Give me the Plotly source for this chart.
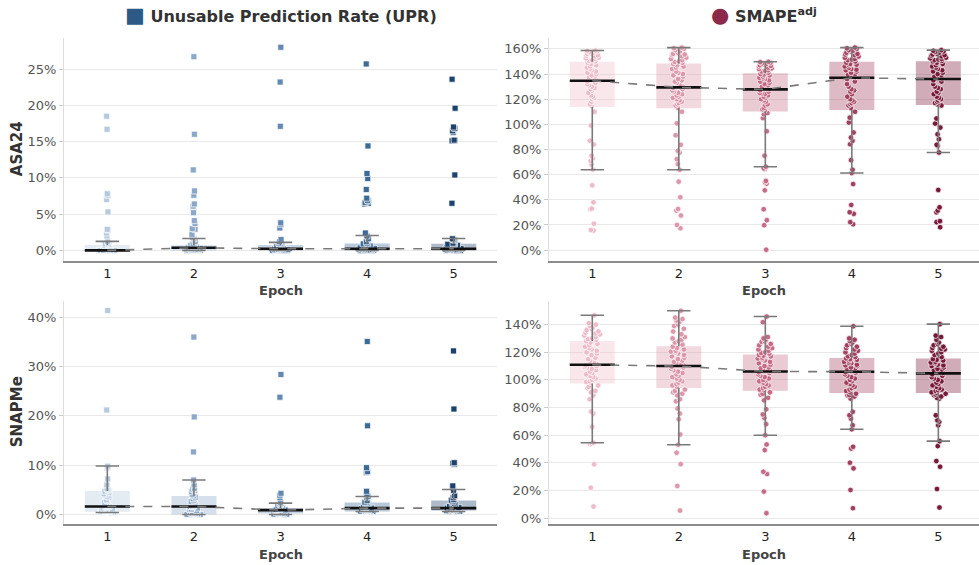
import numpy as np
import plotly.graph_objects as go

epochs = [1, 2, 3, 4, 5]

# ---------------- Unusable Prediction Rate (UPR), values in % ----------------
upr_asa24_pts = [
    [18.5, 16.7, 7.8, 7.6, 7.0, 5.3, 2.9, 2.8, 2.4, 2.0, 1.2, 1.0, 0.9, 0.8, 0.7, 0.6, 0.5, 0.4, 0.3, 0.2,
     0, 0, 0, 0, 0, 0, 0, 0, 0, 0, 0, 0, 0, 0, 0, 0, 0, 0, 0, 0, 0, 0, 0, 0],
    [26.7, 16.0, 11.1, 8.2, 7.6, 6.4, 6.1, 5.2, 4.1, 3.7, 3.0, 2.9, 2.2, 1.8, 1.6, 1.2, 0.9, 0.8, 0.7, 0.6,
     0.5, 0.45, 0.4, 0.38, 0.36, 0.35, 0.3, 0.25, 0.2, 0.15, 0.1, 0.05, 0, 0, 0, 0, 0, 0, 0, 0, 0, 0],
    [28.0, 23.2, 17.1, 3.8, 3.6, 3.1, 1.5, 1.2, 1.0, 0.9, 0.8, 0.7, 0.6, 0.5, 0.4, 0.3, 0.25, 0.22, 0.2, 0.2,
     0.15, 0.1, 0.05, 0, 0, 0, 0, 0, 0, 0, 0, 0, 0, 0, 0, 0, 0],
    [25.7, 14.4, 10.6, 9.9, 8.4, 7.2, 6.9, 6.8, 6.6, 6.5, 6.4, 2.4, 2.0, 1.6, 1.2, 1.0, 0.9, 0.8, 0.7, 0.6,
     0.5, 0.4, 0.35, 0.3, 0.25, 0.22, 0.2, 0.15, 0.1, 0.05, 0, 0, 0, 0, 0, 0, 0, 0, 0, 0],
    [23.6, 19.6, 17.0, 16.8, 16.5, 16.3, 15.2, 15.2, 15.1, 10.4, 6.5, 1.6, 1.5, 1.4, 1.0, 0.9, 0.85, 0.8, 0.8,
     0.7, 0.6, 0.5, 0.4, 0.3, 0.25, 0.22, 0.2, 0.2, 0.15, 0.1, 0.05, 0.05, 0, 0, 0, 0, 0, 0, 0, 0],
]
upr_asa24_q1 = [0, 0, 0, 0, 0]
upr_asa24_med = [0, 0.36, 0.22, 0.22, 0.22]
upr_asa24_q3 = [0.73, 0.70, 0.73, 0.96, 0.91]
upr_asa24_wlo = [0, 0, 0, 0, 0]
upr_asa24_whi = [1.24, 1.65, 1.1, 2.06, 1.65]

upr_snapme_pts = [
    [41.4, 21.2, 9.8, 9.5, 7.2, 6.0, 5.3, 5.1, 4.9, 4.7, 4.5, 4.2, 4.0, 3.7, 3.5, 3.0, 2.8, 2.4, 2.0, 1.8,
     1.6, 1.6, 1.5, 1.3, 1.2, 1.1, 1.0, 1.0, 0.9, 0.8, 0.8, 0.7, 0.7, 0.6, 0.6, 0.5, 0.5, 0.5, 0.4, 0.4, 0.3],
    [36.0, 19.8, 12.7, 7.0, 6.0, 5.3, 5.1, 4.9, 4.6, 4.1, 3.8, 3.5, 3.2, 2.9, 2.6, 2.5, 2.2, 2.0, 1.8, 1.7,
     1.6, 1.5, 1.3, 1.1, 1.0, 0.8, 0.6, 0.5, 0.4, 0.3, 0.2, 0.1, 0.1, 0.05, 0, 0, 0, 0],
    [28.4, 23.8, 4.3, 3.9, 3.4, 2.5, 2.3, 2.2, 2.0, 1.8, 1.6, 1.5, 1.3, 1.2, 1.1, 1.0, 0.95, 0.9, 0.85, 0.8,
     0.7, 0.6, 0.5, 0.4, 0.3, 0.25, 0.2, 0.2, 0.15, 0.1, 0.05, 0, 0],
    [35.1, 18.0, 9.5, 8.7, 8.5, 4.7, 4.1, 3.7, 3.5, 2.8, 2.5, 2.4, 2.2, 2.0, 1.8, 1.6, 1.5, 1.4, 1.3, 1.3,
     1.2, 1.2, 1.1, 1.0, 1.0, 0.9, 0.9, 0.8, 0.8, 0.7, 0.7, 0.6, 0.6, 0.6],
    [33.2, 21.4, 10.5, 10.4, 10.2, 5.8, 5.7, 4.9, 3.8, 3.4, 3.0, 2.9, 2.6, 2.3, 2.1, 1.9, 1.8, 1.6, 1.5, 1.4,
     1.3, 1.3, 1.2, 1.2, 1.1, 1.1, 1.0, 1.0, 0.9, 0.9, 0.8, 0.8, 0.7, 0.6, 0.6],
]
upr_snapme_q1 = [0.53, 0.0, 0.2, 0.6, 0.81]
upr_snapme_med = [1.62, 1.62, 0.87, 1.28, 1.28]
upr_snapme_q3 = [4.78, 3.77, 1.28, 2.43, 2.83]
upr_snapme_wlo = [0.4, 0.0, 0.0, 0.6, 0.6]
upr_snapme_whi = [9.84, 7.0, 2.29, 3.64, 5.06]

# ---------------- SMAPE adj, values in % ----------------
smape_asa24_pts = [
    [158.7, 158.5, 158, 157.5, 157, 156.5, 156, 155, 154.5, 154, 153, 152.5, 152, 151, 150.5, 150,
     149, 148, 147, 146, 145, 144, 143, 142, 141, 140, 139, 138, 137.5, 137, 136, 135.5,
     134, 133, 132, 131, 130, 129, 128, 127, 125, 123, 122, 121, 120, 118, 116, 114.5,
     110, 99, 87, 84, 75, 73, 71, 68, 64, 51.5, 38, 33, 32.5, 21, 16, 15.5],
    [161, 160.5, 160, 159, 158, 157, 156, 155.5, 155, 154, 153, 152, 151, 150, 149.5, 149,
     148, 147, 146, 145, 144, 142, 141, 140, 139, 138, 136, 135, 134, 133, 131, 130,
     129, 128, 127, 126, 125, 124, 123, 122, 121, 120, 119, 118, 117, 116, 115, 113,
     110, 100.8, 91.3, 83.7, 79, 77.6, 72.3, 68.4, 63.9, 54.4, 42, 32.7, 31.4, 27.5, 20, 17.4],
    [149.7, 149.5, 149, 148.5, 148, 147.5, 147, 146.5, 146, 145, 144.5, 144, 143, 142.5, 142, 141,
     140, 139.5, 139, 138, 137, 136.5, 136, 135, 134, 133, 132, 131, 130, 129.5, 129, 128,
     127, 126, 125, 124.5, 124, 123, 122, 121, 120, 119, 118, 116, 115, 113, 112, 111,
     109, 108, 105, 94.5, 75, 66.3, 65, 64.5, 55, 54, 52.8, 47.5, 32.5, 23.8, 19.8, 0.3],
    [161, 160.5, 160, 159, 158.5, 158, 157, 156, 155.5, 155, 154, 153, 152, 151.5, 151, 150,
     149, 148, 147.5, 147, 146, 145, 144, 143.5, 143, 142, 141, 140, 139.5, 139, 138, 137.5,
     136, 134, 132, 130, 128, 127, 126, 124, 122, 120, 119, 118, 117, 116, 115, 113,
     110, 105.3, 101.4, 93.5, 89.5, 86.9, 84.2, 71.5, 63.9, 61.3, 52.5, 35.9, 30.1, 28.8, 22.2, 20.6],
    [159, 158.5, 158, 157.5, 157, 156, 155.5, 155, 154.5, 154, 153, 152.5, 152, 151.5, 151, 150.5,
     150, 149, 148, 147, 146, 145, 144, 143, 142, 141, 140, 139, 138, 137.5, 137, 136.5,
     135, 134, 132, 130, 129, 128, 126, 125, 124, 122, 121, 120, 119, 118, 117, 116,
     115, 104.6, 100.6, 97.4, 92.1, 88.2, 83.7, 83, 77.6, 47.8, 34, 31.4, 30.1, 23, 22.2, 18.2],
]
smape_asa24_q1 = [113.8, 112.7, 110.1, 111.4, 115.4]
smape_asa24_med = [134.7, 129.4, 127.8, 137.0, 136.0]
smape_asa24_q3 = [149.7, 148.4, 140.7, 149.7, 150.2]
smape_asa24_wlo = [63.9, 63.9, 66.3, 61.3, 77.6]
smape_asa24_whi = [158.7, 161.0, 149.7, 161.0, 159.0]

smape_snapme_pts = [
    [146.7, 141, 140, 139, 138, 137, 136, 135, 134, 133.5, 133, 132, 131, 130, 129.5, 129,
     128, 127, 126, 125, 124, 123, 122, 121, 120, 119, 118, 116, 115, 113.5, 112.5, 111.5,
     110.5, 110, 109.5, 109, 108, 107, 106, 105, 104, 103, 102, 101, 100, 99, 98.5, 98,
     96, 95, 94, 92, 91, 88.8, 86, 77, 75.6, 66, 54.5, 54, 53.5, 39, 22, 8.4],
    [150, 145, 144, 143, 142, 140, 139, 137, 135, 133, 131, 130, 129, 128, 127, 125.5,
     124, 123, 122, 121, 120.5, 120, 119, 118, 117, 116, 115, 114, 113, 112, 111, 110.5,
     109.5, 109, 108, 107, 106, 105, 104, 103, 102, 101, 100, 99, 98, 97, 96, 95,
     93, 92, 91, 90, 88.8, 86, 84.5, 79.3, 75.6, 71.5, 60.5, 53.1, 47.3, 39.1, 23.3, 5.5],
    [145.8, 141.7, 131, 130, 129, 128, 127.5, 126, 125, 124, 123, 122, 121, 120, 119.5, 119,
     118, 117.5, 117, 116, 115.5, 115, 114, 113, 112, 111, 110, 109, 108.5, 108, 107, 106.5,
     105.5, 105, 104, 103, 102, 101, 100, 99.5, 99, 98, 97, 96, 95, 94, 93, 92.5,
     91, 90, 89.3, 87, 85.2, 78.8, 75, 72.5, 68, 60, 53.3, 49.2, 33.6, 31.9, 19.2, 3.6],
    [138.8, 130, 129, 128, 127, 126, 125, 124, 123, 122, 121, 120, 119, 118, 117, 116.5,
     115.5, 115, 114.5, 114, 113, 112.5, 112, 111, 110.5, 110, 109, 108.5, 108, 107, 106.5, 106.2,
     105.5, 105, 104, 103, 102, 101, 100, 99, 98, 97, 96, 95, 94, 93, 92, 91,
     90, 89, 88.8, 88, 86.5, 76.9, 74.4, 72, 67.2, 64.3, 51.6, 50.4, 40.1, 36, 20.4, 7.2],
    [140.3, 132, 131, 129, 127, 126, 125, 124, 123, 122.5, 122, 121, 120, 119, 118, 116.5,
     115, 114.5, 114, 113, 112.5, 112, 111, 110.5, 110, 109, 108, 107.5, 107, 106, 105.5, 105,
     104, 103, 102, 101, 100, 99, 98, 97, 96, 95, 94, 93, 92.5, 92, 91, 90.8,
     90, 89.5, 89, 88, 87, 86.5, 74.4, 70.8, 69.7, 67.2, 55.7, 52.1, 41.3, 37.2, 21.1, 7.7],
]
smape_snapme_q1 = [97.3, 94.2, 92.2, 90.5, 90.5]
smape_snapme_med = [110.9, 110.0, 106.1, 105.9, 104.7]
smape_snapme_q3 = [128.2, 124.4, 118.4, 115.8, 115.5]
smape_snapme_wlo = [54.5, 53.1, 60.0, 64.3, 55.7]
smape_snapme_whi = [146.7, 150.0, 145.8, 138.8, 140.3]

# ---------------- styling ----------------
blue_pts = ["#b5c9df", "#8ba8c9", "#6488b2", "#3d6995", "#1c426d"]
red_pts = ["#edbcc8", "#dc97aa", "#c56b86", "#a2405f", "#79193a"]
FILL_ALPHA = 0.36
FONT = "DejaVu Sans"


def rgba(hexc, a):
    h = hexc.lstrip("#")
    r, g, b = int(h[0:2], 16), int(h[2:4], 16), int(h[4:6], 16)
    return f"rgba({r},{g},{b},{a})"


BOX_W = 0.52
CAP_HW = 0.135

panels = [
    dict(ax="", pts=upr_asa24_pts, q1=upr_asa24_q1, med=upr_asa24_med, q3=upr_asa24_q3,
         wlo=upr_asa24_wlo, whi=upr_asa24_whi, colors=blue_pts, symbol="square", size=6),
    dict(ax="2", pts=smape_asa24_pts, q1=smape_asa24_q1, med=smape_asa24_med, q3=smape_asa24_q3,
         wlo=smape_asa24_wlo, whi=smape_asa24_whi, colors=red_pts, symbol="circle", size=5.6),
    dict(ax="3", pts=upr_snapme_pts, q1=upr_snapme_q1, med=upr_snapme_med, q3=upr_snapme_q3,
         wlo=upr_snapme_wlo, whi=upr_snapme_whi, colors=blue_pts, symbol="square", size=6),
    dict(ax="4", pts=smape_snapme_pts, q1=smape_snapme_q1, med=smape_snapme_med, q3=smape_snapme_q3,
         wlo=smape_snapme_wlo, whi=smape_snapme_whi, colors=red_pts, symbol="circle", size=5.6),
]

fig = go.Figure()

for p in panels:
    xa, ya = "x" + p["ax"], "y" + p["ax"]
    q1 = np.array(p["q1"]) / 100
    q3 = np.array(p["q3"]) / 100
    med = np.array(p["med"]) / 100
    wlo = np.array(p["wlo"]) / 100
    whi = np.array(p["whi"]) / 100
    ep = np.array(epochs, dtype=float)

    # box bodies
    fig.add_trace(go.Bar(
        x=epochs, base=q1, y=q3 - q1, width=BOX_W, xaxis=xa, yaxis=ya,
        marker=dict(color=[rgba(c, FILL_ALPHA) for c in p["colors"]], line=dict(width=0)),
        hoverinfo="skip", showlegend=False))

    # jittered sample points
    for i, e in enumerate(epochs):
        vals = np.array(p["pts"][i]) / 100
        fig.add_trace(go.Box(
            x=[e] * len(vals), y=vals, xaxis=xa, yaxis=ya,
            boxpoints="all", jitter=0.38, pointpos=0, width=0.5,
            fillcolor="rgba(0,0,0,0)", line=dict(width=0, color="rgba(0,0,0,0)"),
            marker=dict(symbol=p["symbol"], size=p["size"], color=p["colors"][i], opacity=1,
                        line=dict(color="white", width=0.7)),
            hoverinfo="skip", showlegend=False))

    # whiskers + caps
    wx, wy = [], []
    for i, e in enumerate(ep):
        wx += [e, e, None, e, e, None,
               e - CAP_HW, e + CAP_HW, None, e - CAP_HW, e + CAP_HW, None]
        wy += [q3[i], whi[i], None, q1[i], wlo[i], None,
               whi[i], whi[i], None, wlo[i], wlo[i], None]
    fig.add_trace(go.Scatter(x=wx, y=wy, xaxis=xa, yaxis=ya, mode="lines",
                             line=dict(color="#7a7a7a", width=1.6),
                             hoverinfo="skip", showlegend=False))

    # median lines
    mx, my = [], []
    for i, e in enumerate(ep):
        mx += [e - BOX_W / 2, e + BOX_W / 2, None]
        my += [med[i], med[i], None]
    fig.add_trace(go.Scatter(x=mx, y=my, xaxis=xa, yaxis=ya, mode="lines",
                             line=dict(color="#111111", width=2.6),
                             hoverinfo="skip", showlegend=False))

    # dashed trend through medians
    fig.add_trace(go.Scatter(x=epochs, y=med, xaxis=xa, yaxis=ya, mode="lines",
                             line=dict(color="#7a7a7a", width=1.6, dash="dash"),
                             hoverinfo="skip", showlegend=False))

# ---------------- axes ----------------
xl = [0.0654, 0.5077]
xr = [0.5608, 1.0]
yt = [0.5368, 0.9333]
yb = [0.0696, 0.4660]

xcommon = dict(range=[0.5, 5.5], tickmode="array", tickvals=epochs, ticktext=[str(e) for e in epochs],
               showgrid=False, zeroline=False, showline=True, linecolor="#8c8c8c", linewidth=2,
               ticks="", tickfont=dict(size=13, color="#222222", family=FONT))
ycommon = dict(showgrid=True, gridcolor="#e8e8e8", gridwidth=1, zeroline=False, showline=True,
               linecolor="#dddddd", linewidth=1, ticks="outside", ticklen=4, tickcolor="#cccccc",
               tickformat=".0%", tickfont=dict(size=13, color="#555555", family=FONT))

fig.update_layout(
    xaxis=dict(domain=xl, anchor="y", **xcommon),
    xaxis2=dict(domain=xr, anchor="y2", **{**xcommon, "range": [0.5, 5.47]}),
    xaxis3=dict(domain=xl, anchor="y3", **xcommon),
    xaxis4=dict(domain=xr, anchor="y4", **{**xcommon, "range": [0.5, 5.47]}),
    yaxis=dict(domain=yt, anchor="x", range=[-0.0143, 0.2934], dtick=0.05, **ycommon),
    yaxis2=dict(domain=yt, anchor="x2", range=[-0.085, 1.69], dtick=0.2, **ycommon),
    yaxis3=dict(domain=yb, anchor="x3", range=[-0.019, 0.434], dtick=0.1, **ycommon),
    yaxis4=dict(domain=yb, anchor="x4", range=[-0.041, 1.573], dtick=0.2, **ycommon),
)

annotations = [
    dict(text="<span style='color:#2c5986;font-size:21px'>■</span><b> Unusable Prediction Rate (UPR)</b>",
         x=(xl[0] + xl[1]) / 2, y=1 - 15 / 565, xref="paper", yref="paper",
         xanchor="center", yanchor="middle", showarrow=False,
         font=dict(size=16, color="#333333", family=FONT)),
    dict(text="<span style='color:#8c2849;font-size:21px'>●</span><b> SMAPE<sup>adj</sup></b>",
         x=(xr[0] + xr[1]) / 2, y=1 - 15 / 565, xref="paper", yref="paper",
         xanchor="center", yanchor="middle", showarrow=False,
         font=dict(size=16, color="#333333", family=FONT)),
    dict(text="<b>ASA24</b>", x=17 / 979, y=(yt[0] + yt[1]) / 2, xref="paper", yref="paper",
         xanchor="center", yanchor="middle", textangle=-90, showarrow=False,
         font=dict(size=15, color="#333333", family=FONT)),
    dict(text="<b>SNAPMe</b>", x=17 / 979, y=(yb[0] + yb[1]) / 2, xref="paper", yref="paper",
         xanchor="center", yanchor="middle", textangle=-90, showarrow=False,
         font=dict(size=15, color="#333333", family=FONT)),
]
for xd, yv in [(xl, 1 - 292 / 565), (xr, 1 - 292 / 565), (xl, 1 - 556 / 565), (xr, 1 - 556 / 565)]:
    annotations.append(dict(text="<b>Epoch</b>", x=(xd[0] + xd[1]) / 2, y=yv, xref="paper", yref="paper",
                            xanchor="center", yanchor="middle", showarrow=False,
                            font=dict(size=13, color="#444444", family=FONT)))

fig.update_layout(
    width=979, height=565,
    margin=dict(l=0, r=0, t=0, b=0),
    paper_bgcolor="white", plot_bgcolor="white",
    barmode="overlay", boxmode="overlay",
    showlegend=False,
    font=dict(family=FONT),
    annotations=annotations,
)

fig.write_html("out.html")
